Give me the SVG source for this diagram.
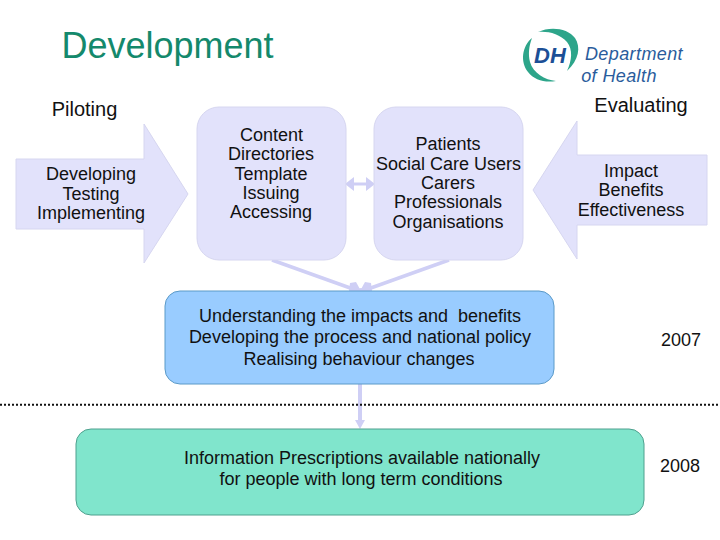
<svg xmlns="http://www.w3.org/2000/svg" width="720" height="540" viewBox="0 0 720 540">
<style>
text{font-family:"Liberation Sans",Arial,sans-serif;fill:#111;text-anchor:middle}
.t{font-size:18px}
.m{font-size:18px}
.h{font-size:20px}
.shape{fill:#e2e2fb;stroke:#d6d6f0;stroke-width:1}
.conn{stroke:#cfcff5;stroke-width:3.500;fill:none}
.head{fill:#cfcff5}
</style>
<rect width="720" height="540" fill="#fff"/>
<text x="167.500" y="58" style="font-size:36px;fill:#14896c">Development</text>
<g id="logo">
<path d="M532 38C522 46 520 62 528 72C534 80 545 83 556 81C545 80 533 73 530 62C528 54 529 46 532 38Z" fill="#2da58a"/>
<path d="M538 32C550 26 568 28 575 38C581 47 579 60 567 71C572 60 573 50 567 42C560 34 548 31 538 32Z" fill="#2da58a"/>
<text x="550" y="63" style="font-size:22px;font-weight:bold;font-style:italic;fill:#1c4f96">DH</text>
<text x="634" y="60" style="font-size:18px;letter-spacing:.4px;font-style:italic;fill:#2a5c9c">Department</text>
<text x="619" y="82" style="font-size:18px;letter-spacing:.4px;font-style:italic;fill:#2a5c9c">of Health</text>
</g>
<g id="connectors">
<path class="conn" d="M272 260L353 289"/>
<path class="conn" d="M449 260L368 289"/>
<path class="head" d="M349 291H372L361 288Z"/>
<path class="head" d="M350 283L356 282L361 291H349Z"/>
<path class="head" d="M371 283L365 282L360 291H372Z"/>
<path d="M350 184H370" stroke="#cfcff5" stroke-width="3" fill="none"/>
<path class="head" d="M345 184L354 177V191Z"/>
<path class="head" d="M375 184L366 177V191Z"/>
<path d="M360 381V421" stroke="#cfcff5" stroke-width="4" fill="none"/>
<path class="head" d="M355 420H365L360 429Z"/>
</g>
<path d="M0 404.800H720" stroke="#111" stroke-width="2" stroke-dasharray="2 2" fill="none"/>
<text class="h" x="84.500" y="116">Piloting</text>
<text class="h" x="641" y="112">Evaluating</text>
<g id="piloting">
<path class="shape" d="M16 159H144V124L188 194L144 263V229H16Z"/>
<text class="t" x="91" y="180">Developing</text>
<text class="t" x="91" y="200">Testing</text>
<text class="t" x="91" y="219">Implementing</text>
</g>
<g id="content">
<rect class="shape" x="197" y="107" width="149" height="153" rx="22"/>
<text class="t" x="271.500" y="141">Content</text>
<text class="t" x="271" y="160">Directories</text>
<text class="t" x="271" y="180">Template</text>
<text class="t" x="271" y="199">Issuing</text>
<text class="t" x="271" y="218">Accessing</text>
</g>
<g id="patients">
<rect class="shape" x="374" y="107" width="149" height="153" rx="22"/>
<text class="t" x="448" y="150">Patients</text>
<text class="t" x="448.500" y="170">Social Care Users</text>
<text class="t" x="448" y="189">Carers</text>
<text class="t" x="448" y="208">Professionals</text>
<text class="t" x="448" y="228">Organisations</text>
</g>
<g id="evaluating">
<path class="shape" d="M707 155H577V121L533 190L577 259V225H707Z"/>
<text class="t" x="631" y="177">Impact</text>
<text class="t" x="631" y="196">Benefits</text>
<text class="t" x="631" y="216">Effectiveness</text>
</g>
<g id="understanding">
<rect x="165" y="291" width="389" height="93" rx="15" fill="#99ccff" stroke="#5b9ac8" stroke-width="1"/>
<text class="m" x="360" y="322">Understanding the impacts and&#160; benefits</text>
<text class="m" x="360" y="343">Developing the process and national policy</text>
<text class="m" x="359" y="365">Realising behaviour changes</text>
</g>
<g id="information">
<rect x="76" y="429" width="568" height="86" rx="15" fill="#80e5cc" stroke="#4fa08e" stroke-width="1"/>
<text class="m" x="362" y="464">Information Prescriptions available nationally</text>
<text class="m" x="361" y="485">for people with long term conditions</text>
</g>
<text class="m" x="681" y="346">2007</text>
<text class="m" x="680" y="472">2008</text>
</svg>
